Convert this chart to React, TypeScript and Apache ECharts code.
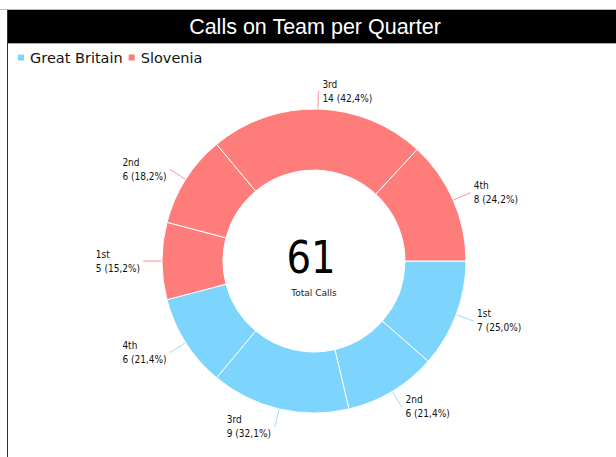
import React, { useEffect, useRef } from "react";
import * as echarts from "echarts";

const quarters = ["1st", "2nd", "3rd", "4th"];
const gbValues = [7, 6, 9, 6];
const slValues = [5, 6, 14, 8];
const seriesNames = ["Great Britain", "Slovenia"];
const colors = ["#7dd5fe", "#fe7d7a"];
const titleText = "Calls on Team per Quarter";
const centerLabel = "Total Calls";

const sum = (a: number[]) => a.reduce((s, v) => s + v, 0);

export default function App() {
  const ref = useRef<HTMLDivElement>(null);
  useEffect(() => {
    if (!ref.current) return;
    const chart = echarts.init(ref.current, undefined, { renderer: "svg" });
    const gbTotal = sum(gbValues);
    const slTotal = sum(slValues);
    const total = gbTotal + slTotal;
    const gbSpan = (gbTotal / total) * 360;
    const labelFont = "'DejaVu Sans Condensed', 'DejaVu Sans', sans-serif";

    const makeSeries = (name: string, values: number[], color: string, start: number, end: number) => {
      const tot = sum(values);
      return {
        type: "pie",
        name,
        center: [314, 261],
        radius: [91, 152],
        startAngle: start,
        endAngle: end,
        clockwise: true,
        avoidLabelOverlap: true,
        itemStyle: { color, borderColor: "#ffffff", borderWidth: 1 },
        emphasis: { disabled: true },
        label: {
          show: true,
          position: "outside",
          fontFamily: labelFont,
          fontSize: 10,
          lineHeight: 14,
          color: "#111",
          distanceToLabelLine: 3,
          formatter: (p: any) =>
            `{a|${p.name}}\n{a|${p.value} (${((p.value / tot) * 100).toFixed(1).replace(".", ",")}%)}`,
          rich: {
            a: { align: "left", fontFamily: labelFont, fontSize: 10, lineHeight: 14, color: "#111" },
          },
        },
        labelLine: { show: true, length: 18, length2: 1, lineStyle: { width: 1, color, opacity: 0.8 } },
        data: quarters.map((q, i) => ({ name: q, value: values[i] })),
      };
    };

    chart.setOption({
      animation: false,
      legend: {
        data: seriesNames,
        left: 11,
        top: 45,
        icon: "rect",
        itemWidth: 8,
        itemHeight: 8,
        itemGap: 4,
        textStyle: { fontFamily: "'DejaVu Sans', sans-serif", fontSize: 14.5, color: "#111" },
        selectedMode: false,
      },
      graphic: [
        { type: "line", shape: { x1: 0, y1: 9.5, x2: 616, y2: 9.5 }, style: { stroke: "#bbbbbb", lineWidth: 1 } },
        { type: "rect", shape: { x: 7, y: 10, width: 609, height: 33 }, style: { fill: "#000000" } },
        { type: "line", shape: { x1: 7, y1: 43.5, x2: 616, y2: 43.5 }, style: { stroke: "#aaaaaa", lineWidth: 1 } },
        { type: "line", shape: { x1: 7.5, y1: 10, x2: 7.5, y2: 457 }, style: { stroke: "#333333", lineWidth: 1 } },
        {
          type: "text",
          x: 315,
          y: 27,
          style: {
            text: titleText,
            fill: "#ffffff",
            font: "21.5px 'Liberation Sans', Arial, sans-serif",
            align: "center",
            verticalAlign: "middle",
          },
        },
        {
          type: "text",
          x: 311,
          y: 257,
          scaleX: 0.86,
          style: {
            text: String(total),
            fill: "#000000",
            font: "45px 'DejaVu Sans', sans-serif",
            align: "center",
            verticalAlign: "middle",
          },
        },
        {
          type: "text",
          x: 314,
          y: 293,
          style: {
            text: centerLabel,
            fill: "#222",
            font: "9px 'DejaVu Sans', sans-serif",
            align: "center",
            verticalAlign: "middle",
          },
        },
      ],
      series: [
        makeSeries(seriesNames[0], gbValues, colors[0], 0, -gbSpan),
        makeSeries(seriesNames[1], slValues, colors[1], -gbSpan, -360),
      ],
    });
    return () => chart.dispose();
  }, []);
  return (
    <div
      ref={ref}
      style={{ position: "absolute", left: 0, top: 0, width: 616, height: 457, background: "#fff" }}
    />
  );
}
